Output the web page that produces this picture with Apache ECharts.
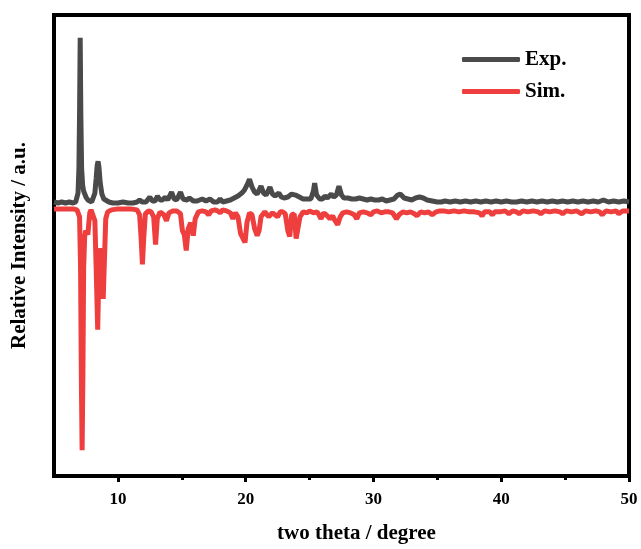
<!DOCTYPE html>
<html>
<head>
<meta charset="utf-8">
<script src="https://cdn.jsdelivr.net/npm/echarts@6/dist/echarts.min.js"></script>
<style>html,body{margin:0;padding:0;background:#fff;}#c{width:641px;height:549px;}</style>
</head>
<body>
<div id="c"></div>
<script>
// Experimental pattern: two theta (deg) and relative intensity
const expTheta = [5.0,5.3,5.6,5.9,6.2,6.5,6.7,6.8,6.88,6.95,7.0,7.05,7.1,7.16,7.24,7.32,7.4,7.5,7.65,7.8,7.95,8.05,8.2,8.3,8.38,8.45,8.52,8.62,8.75,8.9,9.05,9.3,9.6,10.0,10.4,10.8,11.2,11.5,11.7,11.9,12.2,12.5,12.7,12.9,13.1,13.3,13.5,13.7,13.9,14.2,14.4,14.6,14.9,15.1,15.4,15.6,15.9,16.2,16.6,16.9,17.2,17.5,17.8,18.0,18.2,18.5,18.8,19.1,19.4,19.7,19.9,20.1,20.3,20.5,20.7,20.9,21.2,21.4,21.6,21.9,22.1,22.3,22.6,22.8,23.0,23.3,23.6,23.9,24.2,24.5,24.8,25.1,25.3,25.4,25.55,25.8,26.0,26.2,26.4,26.7,26.9,27.1,27.3,27.5,27.7,28.0,28.3,28.6,28.9,29.2,29.5,29.8,30.1,30.4,30.7,31.0,31.3,31.6,31.9,32.1,32.4,32.7,33.0,33.3,33.6,33.9,34.2,34.6,35.0,35.3,35.6,36.0,36.4,36.8,37.2,37.6,38.0,38.4,38.8,39.2,39.6,40.0,40.4,40.8,41.2,41.6,42.0,42.4,42.8,43.2,43.6,44.0,44.4,44.8,45.2,45.6,46.0,46.4,46.8,47.2,47.6,48.0,48.4,48.8,49.2,49.6,50.0];
const expIntensity = [1,0,1,0,1,0,1,3,10,35,90,167,90,35,18,12,10,6,3,1,1,3,10,25,38,42,36,20,9,4,2,1,0,0,1,0,0,1,3,1,1,6,2,2,7,3,3,6,3,11,4,3,11,4,3,5,2,2,4,2,4,1,1,4,1,2,3,5,7,10,13,18,24,16,11,9,17,10,8,16,9,7,10,6,5,6,9,8,6,4,4,4,12,20,8,4,4,7,5,9,6,8,17,8,5,5,4,4,5,4,3,4,3,3,4,2,3,4,8,9,5,4,3,5,6,5,3,2,1,1,2,1,2,1,2,1,2,1,2,1,2,1,2,1,1,2,1,2,1,2,1,2,1,2,1,2,1,2,1,2,1,3,1,2,1,2,1];

// Simulated pattern: two theta (deg) and relative intensity (plotted downward)
const simTheta = [5.0,5.5,6.0,6.5,6.8,6.95,7.0,7.08,7.14,7.2,7.26,7.32,7.4,7.48,7.55,7.65,7.72,7.8,7.9,8.05,8.2,8.3,8.42,8.5,8.6,8.7,8.85,8.95,9.05,9.2,9.5,10.0,10.5,11.0,11.5,11.7,11.82,11.92,12.02,12.15,12.4,12.6,12.8,12.95,13.08,13.3,13.6,13.8,14.0,14.3,14.6,14.9,15.05,15.2,15.35,15.5,15.7,15.9,16.05,16.3,16.6,16.9,17.1,17.3,17.6,17.8,18.0,18.2,18.5,18.8,19.0,19.2,19.4,19.6,19.8,19.95,20.1,20.3,20.5,20.7,20.9,21.05,21.2,21.5,21.8,21.95,22.1,22.3,22.5,22.7,22.9,23.1,23.3,23.45,23.6,23.8,23.95,24.1,24.25,24.5,24.8,25.0,25.3,25.6,25.9,26.1,26.3,26.6,26.8,27.0,27.2,27.4,27.6,27.9,28.2,28.5,28.7,28.9,29.2,29.5,29.8,30.0,30.3,30.6,30.9,31.2,31.5,31.8,32.0,32.3,32.6,32.9,33.2,33.4,33.7,34.0,34.3,34.6,34.9,35.2,35.5,35.9,36.3,36.7,37.1,37.5,37.9,38.3,38.5,38.7,39.1,39.3,39.5,39.9,40.3,40.6,40.9,41.2,41.4,41.7,42.1,42.5,42.9,43.1,43.4,43.8,44.2,44.6,44.8,45.1,45.5,45.9,46.3,46.6,47.0,47.4,47.7,47.9,48.2,48.6,49.0,49.2,49.5,50.0];
const simIntensity = [0,0,0,0,1,3,8,60,170,244,170,60,28,22,24,26,15,4,1,2,12,60,122,70,40,45,91,50,10,3,1,0,0,0,1,6,30,56,30,5,2,3,8,36,10,3,6,12,4,2,2,5,22,26,42,20,14,27,10,3,2,3,6,2,1,2,4,1,2,4,10,4,8,25,30,34,14,4,6,20,27,22,8,3,8,10,4,6,8,3,3,5,22,28,6,5,30,32,8,3,4,2,4,3,10,4,6,10,7,12,16,8,4,3,4,6,10,4,3,4,6,3,2,4,3,3,4,10,6,3,4,3,5,7,3,4,3,6,3,2,2,3,2,3,2,3,3,4,7,3,3,6,3,3,2,5,2,3,5,2,3,2,3,5,2,3,2,3,5,2,3,2,5,2,3,2,3,6,2,3,2,5,2,2];

const xTickLabels = [10, 20, 30, 40, 50];
const xMinorTicks = [15, 25, 35, 45];

const simGap = 6; // vertical separation of the simulated trace below the experimental one

const expData = expTheta.map((t, i) => [t, expIntensity[i]]);
const simData = simTheta.map((t, i) => [t, -(simIntensity[i] + simGap)]);

const serif = '"Liberation Serif", "Times New Roman", serif';
const chart = echarts.init(document.getElementById('c'), null, {renderer: 'canvas'});
chart.setOption({
  animation: false,
  backgroundColor: '#fff',
  grid: {left: 54, right: 12, top: 15, bottom: 68, show: true, borderColor: '#000', borderWidth: 4, backgroundColor: 'transparent'},
  legend: {
    left: 457, top: 44, orient: 'vertical', itemGap: 11,
    itemWidth: 58, itemHeight: 5, icon: 'roundRect',
    textStyle: {fontFamily: serif, fontWeight: 'bold', fontSize: 21, color: '#000'},
    data: ['Exp.', 'Sim.']
  },
  xAxis: [{
    type: 'value', min: 5, max: 50,
    name: 'two theta / degree', nameLocation: 'middle', nameGap: 47,
    nameTextStyle: {fontFamily: serif, fontWeight: 'bold', fontSize: 21, color: '#000', padding: [0, 0, 0, 30]},
    axisLine: {show: true, onZero: false, lineStyle: {color: '#000', width: 4}},
    axisTick: {show: true, customValues: xTickLabels, length: 6, lineStyle: {color: '#000', width: 3}},
    axisLabel: {customValues: xTickLabels, fontFamily: serif, fontWeight: 'bold', fontSize: 17, color: '#000', margin: 15},
    splitLine: {show: false}
  }, {
    type: 'value', min: 5, max: 50, position: 'bottom', gridIndex: 0,
    axisLine: {show: false, onZero: false},
    axisTick: {show: true, customValues: xMinorTicks, length: 4, lineStyle: {color: '#000', width: 3}},
    axisLabel: {show: false},
    splitLine: {show: false}
  }],
  yAxis: {
    type: 'value', min: -276, max: 190,
    name: 'Relative Intensity / a.u.', nameLocation: 'middle', nameGap: 24,
    nameTextStyle: {fontFamily: serif, fontWeight: 'bold', fontSize: 21, color: '#000'},
    axisLine: {show: false, onZero: false}, axisTick: {show: false}, axisLabel: {show: false}, splitLine: {show: false}
  },
  series: [{
    name: 'Sim.', type: 'line', data: simData, showSymbol: false, symbol: 'none',
    lineStyle: {color: '#ee3e3e', width: 5}, itemStyle: {color: '#ee3e3e'}, z: 2
  }, {
    name: 'Exp.', type: 'line', data: expData, showSymbol: false, symbol: 'none',
    lineStyle: {color: '#4a4a4a', width: 5}, itemStyle: {color: '#4a4a4a'}, z: 3
  }]
});
</script>
</body>
</html>
